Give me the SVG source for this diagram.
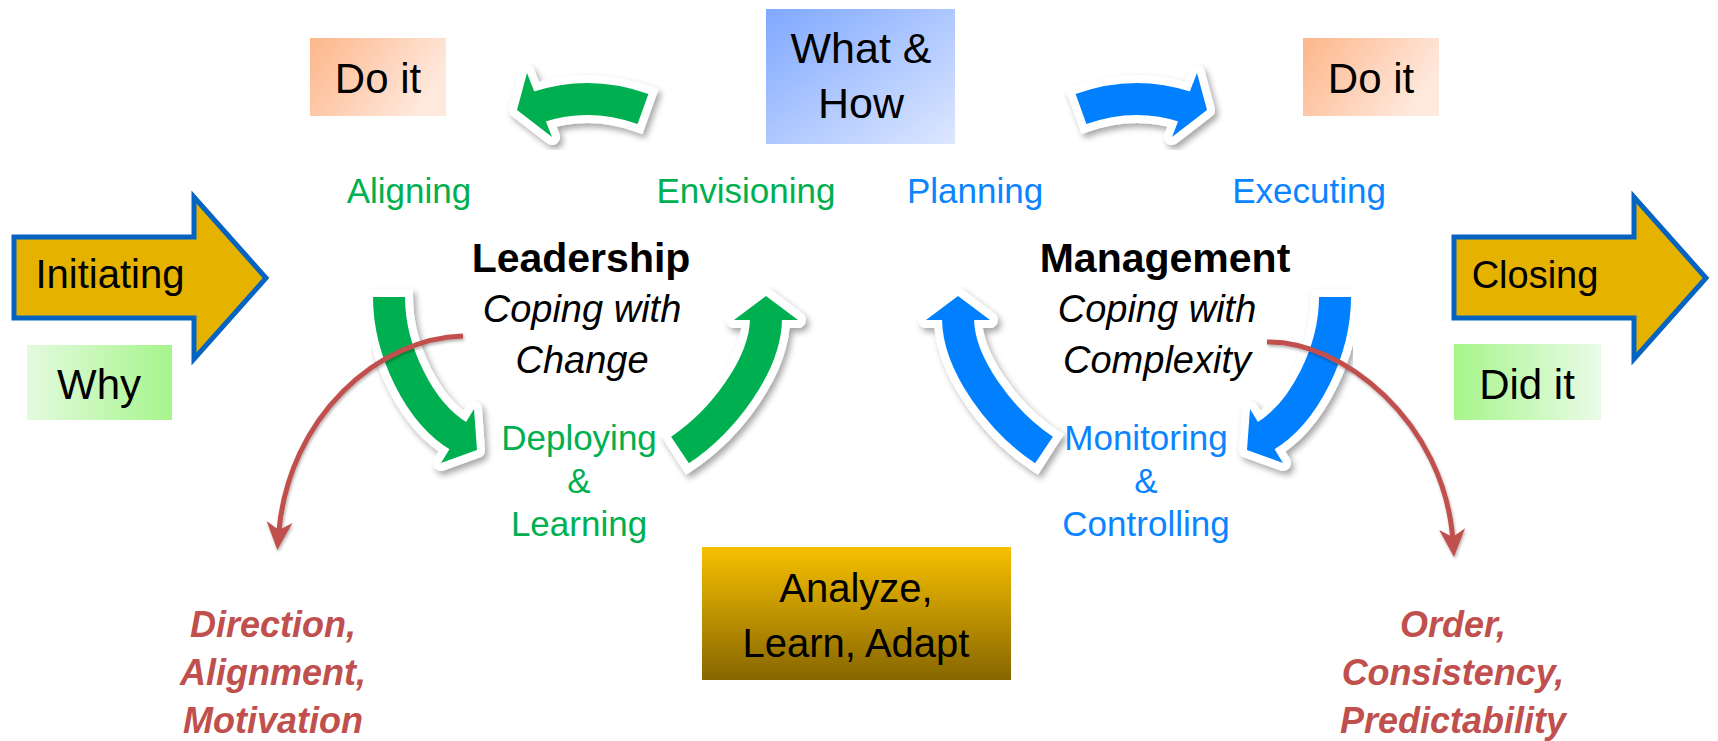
<svg xmlns="http://www.w3.org/2000/svg" width="1718" height="741" viewBox="0 0 1718 741">
<style>
.t{font-family:'Liberation Sans',Arial,sans-serif;text-anchor:middle}
.lab{font-size:42px;fill:#000}
.g{fill:#00B050;font-size:35px}
.b{fill:#0B84FF;font-size:35px}
.title{font-weight:bold;font-size:41px;fill:#000}
.sub{font-style:italic;font-size:38px;fill:#000}
.red{fill:#C0504D;font-weight:bold;font-style:italic;font-size:36px}
.ol{fill:none;stroke:#fff;stroke-width:48}
.olh{fill:#fff;stroke:#fff;stroke-width:16;stroke-linejoin:round}
.gband{fill:none;stroke:#00B050;stroke-width:32}
.bband{fill:none;stroke:#0080FF;stroke-width:32}
.gh{fill:#00B050}
.bh{fill:#0080FF}
.rc{fill:none;stroke:#C0504D;stroke-width:5;marker-end:url(#rh)}
.big{fill:#E6B200;stroke:#0563C1;stroke-width:5;stroke-linejoin:miter}
</style>
<defs>
<filter id="sh" x="-20%" y="-20%" width="140%" height="140%">
<feDropShadow dx="3" dy="4" stdDeviation="3" flood-color="#000" flood-opacity="0.35"/>
</filter>
<filter id="sh2" x="-50%" y="-50%" width="200%" height="200%">
<feDropShadow dx="1" dy="2" stdDeviation="1.5" flood-color="#000" flood-opacity="0.3"/>
</filter>
<marker id="rh" markerUnits="userSpaceOnUse" viewBox="0 0 28 28" markerWidth="28" markerHeight="28" refX="13" refY="14" orient="auto">
<path d="M0,1 L28,14 L0,27 L8,14 Z" fill="#C0504D"/>
</marker>
<linearGradient id="gDo" x1="0" y1="0" x2="1" y2="0.4">
<stop offset="0" stop-color="#FDB68A"/><stop offset="1" stop-color="#FFE8DC"/>
</linearGradient>
<linearGradient id="gWhy" x1="0" y1="0" x2="1" y2="0">
<stop offset="0" stop-color="#E4FADF"/><stop offset="1" stop-color="#A6F58B"/>
</linearGradient>
<linearGradient id="gDid" x1="0" y1="0" x2="1" y2="0">
<stop offset="0" stop-color="#A6F58B"/><stop offset="1" stop-color="#EBFBE7"/>
</linearGradient>
<linearGradient id="gWh" x1="0" y1="0" x2="1" y2="1">
<stop offset="0" stop-color="#7FA8FF"/><stop offset="1" stop-color="#DDE7FF"/>
</linearGradient>
<linearGradient id="gAn" x1="0" y1="0" x2="0" y2="1">
<stop offset="0" stop-color="#F7C000"/><stop offset="1" stop-color="#866600"/>
</linearGradient>
</defs>
<rect width="1718" height="741" fill="#fff"/>

<g id="initiating">
<polygon class="big" points="14,237 194,237 194,197 266,278 194,359 194,318 14,318"/>
<text class="t lab" x="110" y="288" style="font-size:40px">Initiating</text>
</g>
<g id="why">
<rect x="27" y="345" width="145" height="75" fill="url(#gWhy)"/>
<text class="t lab" x="99" y="399">Why</text>
</g>
<g id="closing">
<polygon class="big" points="1454,237 1634,237 1634,197 1706,278 1634,359 1634,318 1454,318"/>
<text class="t lab" x="1535" y="288" style="font-size:38px">Closing</text>
</g>
<g id="did-it">
<rect x="1454" y="344" width="147" height="76" fill="url(#gDid)"/>
<text class="t lab" x="1527" y="399">Did it</text>
</g>
<g id="do-it-left">
<rect x="310" y="38" width="136" height="78" fill="url(#gDo)"/>
<text class="t lab" x="378" y="93">Do it</text>
</g>
<g id="do-it-right">
<rect x="1303" y="38" width="136" height="78" fill="url(#gDo)"/>
<text class="t lab" x="1371" y="93">Do it</text>
</g>
<g id="what-how">
<rect x="766" y="9" width="189" height="135" fill="url(#gWh)"/>
<text class="t lab" x="861" y="63" style="font-size:43px">What &amp;</text>
<text class="t lab" x="861" y="118" style="font-size:43px">How</text>
</g>
<g id="analyze">
<rect x="702" y="547" width="309" height="133" fill="url(#gAn)"/>
<text class="t lab" x="856" y="602" style="font-size:40px">Analyze,</text>
<text class="t lab" x="856" y="657" style="font-size:40px">Learn, Adapt</text>
</g>

<g id="connectors">
<g id="arrow-top-green">
<g filter="url(#sh)">
<path class="ol" d="M650.5,111.7 L643,109 Q590,90 538,107"/>
<polygon class="olh" points="517,110 527,73 552,137"/>
</g>
<path class="gband" d="M643,109 Q590,90 538,107"/>
<polygon class="gh" points="517,110 527,73 552,137"/>
</g>
<g id="arrow-top-blue">
<g filter="url(#sh)">
<path class="ol" d="M1073.5,111.7 L1081,109 Q1134,90 1186,107"/>
<polygon class="olh" points="1207,110 1197,73 1172,137"/>
</g>
<path class="bband" d="M1081,109 Q1134,90 1186,107"/>
<polygon class="bh" points="1207,110 1197,73 1172,137"/>
</g>
<g id="arrow-green-down">
<g filter="url(#sh)">
<path class="ol" d="M389,289 L389,297 C389,350 419,413 460,437"/>
<polygon class="olh" points="477,450 474,409 441,463"/>
</g>
<path class="gband" d="M389,297 C389,350 419,413 460,437"/>
<polygon class="gh" points="477,450 474,409 441,463"/>
</g>
<g id="arrow-green-up">
<g filter="url(#sh)">
<path class="ol" d="M673,454.5 L680,450 C722,422 766,365 766,318"/>
<polygon class="olh" points="766,296 734,320 798,320"/>
</g>
<path class="gband" d="M680,450 C722,422 766,365 766,318"/>
<polygon class="gh" points="766,296 734,320 798,320"/>
</g>
<g id="arrow-blue-up">
<g filter="url(#sh)">
<path class="ol" d="M1051,454.5 L1044,450 C1002,422 958,365 958,318"/>
<polygon class="olh" points="958,296 926,320 990,320"/>
</g>
<path class="bband" d="M1044,450 C1002,422 958,365 958,318"/>
<polygon class="bh" points="958,296 926,320 990,320"/>
</g>
<g id="arrow-blue-down">
<g filter="url(#sh)">
<path class="ol" d="M1335,289 L1335,297 C1335,350 1305,413 1264,437"/>
<polygon class="olh" points="1247,450 1250,409 1283,463"/>
</g>
<path class="bband" d="M1335,297 C1335,350 1305,413 1264,437"/>
<polygon class="bh" points="1247,450 1250,409 1283,463"/>
</g>
<g filter="url(#sh2)">
<path id="curve-left" class="rc" d="M463,336 C380,338 288,415 278.5,535"/>
<path id="curve-right" class="rc" d="M1267,342 C1340,340 1445,420 1453,542"/>
</g>
</g>

<g id="aligning"><text class="t g" x="409" y="203">Aligning</text></g>
<g id="envisioning"><text class="t g" x="746" y="203">Envisioning</text></g>
<g id="planning"><text class="t b" x="975" y="203">Planning</text></g>
<g id="executing"><text class="t b" x="1309" y="203">Executing</text></g>
<g id="deploying">
<text class="t g" x="579" y="450">Deploying</text>
<text class="t g" x="579" y="493">&amp;</text>
<text class="t g" x="579" y="536">Learning</text>
</g>
<g id="monitoring">
<text class="t b" x="1146" y="450">Monitoring</text>
<text class="t b" x="1146" y="493">&amp;</text>
<text class="t b" x="1146" y="536">Controlling</text>
</g>
<g id="leadership">
<text class="t title" x="581" y="272">Leadership</text>
<text class="t sub" x="582" y="322">Coping with</text>
<text class="t sub" x="582" y="373">Change</text>
</g>
<g id="management">
<text class="t title" x="1165" y="272">Management</text>
<text class="t sub" x="1157" y="322">Coping with</text>
<text class="t sub" x="1157" y="373">Complexity</text>
</g>
<g id="leadership-outcome">
<text class="t red" x="273" y="637">Direction,</text>
<text class="t red" x="273" y="685">Alignment,</text>
<text class="t red" x="273" y="733">Motivation</text>
</g>
<g id="management-outcome">
<text class="t red" x="1453" y="637">Order,</text>
<text class="t red" x="1453" y="685">Consistency,</text>
<text class="t red" x="1453" y="733">Predictability</text>
</g>
</svg>
